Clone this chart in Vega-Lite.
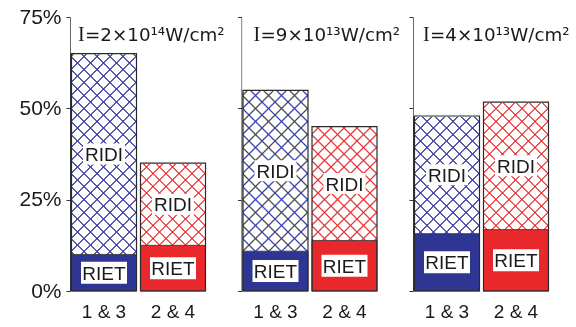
{
  "$schema": "https://vega.github.io/schema/vega-lite/v6.json",
  "background": "white",
  "padding": {"left": 18, "top": 6, "right": 4, "bottom": 4},
  "params": [
    {"name": "hatchA", "value": {"gradient": "linear", "x1": 0, "y1": 0, "x2": 0.277865, "y2": 1.17131, "stops": [
      {"offset": 0.03415, "color": "#fff"}, {"offset": 0.03835, "color": "#000"}, {"offset": 0.04255, "color": "#fff"},
      {"offset": 0.07250, "color": "#fff"}, {"offset": 0.07670, "color": "#000"}, {"offset": 0.08090, "color": "#fff"},
      {"offset": 0.11084, "color": "#fff"}, {"offset": 0.11504, "color": "#000"}, {"offset": 0.11924, "color": "#fff"},
      {"offset": 0.14919, "color": "#fff"}, {"offset": 0.15339, "color": "#000"}, {"offset": 0.15759, "color": "#fff"},
      {"offset": 0.18754, "color": "#fff"}, {"offset": 0.19174, "color": "#000"}, {"offset": 0.19594, "color": "#fff"},
      {"offset": 0.22589, "color": "#fff"}, {"offset": 0.23009, "color": "#000"}, {"offset": 0.23429, "color": "#fff"},
      {"offset": 0.26424, "color": "#fff"}, {"offset": 0.26844, "color": "#000"}, {"offset": 0.27264, "color": "#fff"},
      {"offset": 0.30258, "color": "#fff"}, {"offset": 0.30678, "color": "#000"}, {"offset": 0.31098, "color": "#fff"},
      {"offset": 0.34093, "color": "#fff"}, {"offset": 0.34513, "color": "#000"}, {"offset": 0.34933, "color": "#fff"},
      {"offset": 0.37928, "color": "#fff"}, {"offset": 0.38348, "color": "#000"}, {"offset": 0.38768, "color": "#fff"},
      {"offset": 0.41763, "color": "#fff"}, {"offset": 0.42183, "color": "#000"}, {"offset": 0.42603, "color": "#fff"},
      {"offset": 0.45598, "color": "#fff"}, {"offset": 0.46018, "color": "#000"}, {"offset": 0.46438, "color": "#fff"},
      {"offset": 0.49433, "color": "#fff"}, {"offset": 0.49853, "color": "#000"}, {"offset": 0.50273, "color": "#fff"},
      {"offset": 0.53267, "color": "#fff"}, {"offset": 0.53687, "color": "#000"}, {"offset": 0.54107, "color": "#fff"},
      {"offset": 0.57102, "color": "#fff"}, {"offset": 0.57522, "color": "#000"}, {"offset": 0.57942, "color": "#fff"},
      {"offset": 0.60937, "color": "#fff"}, {"offset": 0.61357, "color": "#000"}, {"offset": 0.61777, "color": "#fff"},
      {"offset": 0.64772, "color": "#fff"}, {"offset": 0.65192, "color": "#000"}, {"offset": 0.65612, "color": "#fff"},
      {"offset": 0.68607, "color": "#fff"}, {"offset": 0.69027, "color": "#000"}, {"offset": 0.69447, "color": "#fff"},
      {"offset": 0.72441, "color": "#fff"}, {"offset": 0.72861, "color": "#000"}, {"offset": 0.73281, "color": "#fff"},
      {"offset": 0.76276, "color": "#fff"}, {"offset": 0.76696, "color": "#000"}, {"offset": 0.77116, "color": "#fff"},
      {"offset": 0.80111, "color": "#fff"}, {"offset": 0.80531, "color": "#000"}, {"offset": 0.80951, "color": "#fff"},
      {"offset": 0.83946, "color": "#fff"}, {"offset": 0.84366, "color": "#000"}, {"offset": 0.84786, "color": "#fff"},
      {"offset": 0.87781, "color": "#fff"}, {"offset": 0.88201, "color": "#000"}, {"offset": 0.88621, "color": "#fff"},
      {"offset": 0.91615, "color": "#fff"}, {"offset": 0.92035, "color": "#000"}, {"offset": 0.92455, "color": "#fff"},
      {"offset": 0.95450, "color": "#fff"}, {"offset": 0.95870, "color": "#000"}, {"offset": 0.96290, "color": "#fff"}
    ]}},
    {"name": "hatchB", "value": {"gradient": "linear", "x1": 0, "y1": 1, "x2": 0.277865, "y2": -0.17131, "stops": [
      {"offset": 0.03415, "color": "rgba(0,0,0,0)"}, {"offset": 0.03835, "color": "#000"}, {"offset": 0.04255, "color": "rgba(0,0,0,0)"},
      {"offset": 0.07250, "color": "rgba(0,0,0,0)"}, {"offset": 0.07670, "color": "#000"}, {"offset": 0.08090, "color": "rgba(0,0,0,0)"},
      {"offset": 0.11084, "color": "rgba(0,0,0,0)"}, {"offset": 0.11504, "color": "#000"}, {"offset": 0.11924, "color": "rgba(0,0,0,0)"},
      {"offset": 0.14919, "color": "rgba(0,0,0,0)"}, {"offset": 0.15339, "color": "#000"}, {"offset": 0.15759, "color": "rgba(0,0,0,0)"},
      {"offset": 0.18754, "color": "rgba(0,0,0,0)"}, {"offset": 0.19174, "color": "#000"}, {"offset": 0.19594, "color": "rgba(0,0,0,0)"},
      {"offset": 0.22589, "color": "rgba(0,0,0,0)"}, {"offset": 0.23009, "color": "#000"}, {"offset": 0.23429, "color": "rgba(0,0,0,0)"},
      {"offset": 0.26424, "color": "rgba(0,0,0,0)"}, {"offset": 0.26844, "color": "#000"}, {"offset": 0.27264, "color": "rgba(0,0,0,0)"},
      {"offset": 0.30258, "color": "rgba(0,0,0,0)"}, {"offset": 0.30678, "color": "#000"}, {"offset": 0.31098, "color": "rgba(0,0,0,0)"},
      {"offset": 0.34093, "color": "rgba(0,0,0,0)"}, {"offset": 0.34513, "color": "#000"}, {"offset": 0.34933, "color": "rgba(0,0,0,0)"},
      {"offset": 0.37928, "color": "rgba(0,0,0,0)"}, {"offset": 0.38348, "color": "#000"}, {"offset": 0.38768, "color": "rgba(0,0,0,0)"},
      {"offset": 0.41763, "color": "rgba(0,0,0,0)"}, {"offset": 0.42183, "color": "#000"}, {"offset": 0.42603, "color": "rgba(0,0,0,0)"},
      {"offset": 0.45598, "color": "rgba(0,0,0,0)"}, {"offset": 0.46018, "color": "#000"}, {"offset": 0.46438, "color": "rgba(0,0,0,0)"},
      {"offset": 0.49433, "color": "rgba(0,0,0,0)"}, {"offset": 0.49853, "color": "#000"}, {"offset": 0.50273, "color": "rgba(0,0,0,0)"},
      {"offset": 0.53267, "color": "rgba(0,0,0,0)"}, {"offset": 0.53687, "color": "#000"}, {"offset": 0.54107, "color": "rgba(0,0,0,0)"},
      {"offset": 0.57102, "color": "rgba(0,0,0,0)"}, {"offset": 0.57522, "color": "#000"}, {"offset": 0.57942, "color": "rgba(0,0,0,0)"},
      {"offset": 0.60937, "color": "rgba(0,0,0,0)"}, {"offset": 0.61357, "color": "#000"}, {"offset": 0.61777, "color": "rgba(0,0,0,0)"},
      {"offset": 0.64772, "color": "rgba(0,0,0,0)"}, {"offset": 0.65192, "color": "#000"}, {"offset": 0.65612, "color": "rgba(0,0,0,0)"},
      {"offset": 0.68607, "color": "rgba(0,0,0,0)"}, {"offset": 0.69027, "color": "#000"}, {"offset": 0.69447, "color": "rgba(0,0,0,0)"},
      {"offset": 0.72441, "color": "rgba(0,0,0,0)"}, {"offset": 0.72861, "color": "#000"}, {"offset": 0.73281, "color": "rgba(0,0,0,0)"},
      {"offset": 0.76276, "color": "rgba(0,0,0,0)"}, {"offset": 0.76696, "color": "#000"}, {"offset": 0.77116, "color": "rgba(0,0,0,0)"},
      {"offset": 0.80111, "color": "rgba(0,0,0,0)"}, {"offset": 0.80531, "color": "#000"}, {"offset": 0.80951, "color": "rgba(0,0,0,0)"},
      {"offset": 0.83946, "color": "rgba(0,0,0,0)"}, {"offset": 0.84366, "color": "#000"}, {"offset": 0.84786, "color": "rgba(0,0,0,0)"},
      {"offset": 0.87781, "color": "rgba(0,0,0,0)"}, {"offset": 0.88201, "color": "#000"}, {"offset": 0.88621, "color": "rgba(0,0,0,0)"},
      {"offset": 0.91615, "color": "rgba(0,0,0,0)"}, {"offset": 0.92035, "color": "#000"}, {"offset": 0.92455, "color": "rgba(0,0,0,0)"},
      {"offset": 0.95450, "color": "rgba(0,0,0,0)"}, {"offset": 0.95870, "color": "#000"}, {"offset": 0.96290, "color": "rgba(0,0,0,0)"}
    ]}}
  ],
  "data": {"values": [
    {"panel": "2e14", "pair": "1 & 3", "riet": 10, "total": 65},
    {"panel": "2e14", "pair": "2 & 4", "riet": 12.5, "total": 35},
    {"panel": "9e13", "pair": "1 & 3", "riet": 10.9, "total": 54.9},
    {"panel": "9e13", "pair": "2 & 4", "riet": 13.8, "total": 45},
    {"panel": "4e13", "pair": "1 & 3", "riet": 15.7, "total": 47.9},
    {"panel": "4e13", "pair": "2 & 4", "riet": 16.8, "total": 51.7}
  ]},
  "config": {
    "view": {"stroke": null},
    "axisY": {"domainColor": "#333", "domainWidth": 1, "tickColor": "#333", "tickSize": 4, "labelFont": "Liberation Sans", "labelFontSize": 21, "labelColor": "#1a1a1a", "labelPadding": 5, "grid": false},
    "axisX": {"domain": false, "ticks": false, "labelAngle": 0, "labelFont": "Liberation Sans", "labelFontSize": 19, "labelColor": "#1a1a1a", "labelPadding": 11, "grid": false},
    "text": {"font": "Liberation Sans", "fontSize": 19, "color": "#1a1a1a"}
  },
  "spacing": 34.5,
  "bounds": "flush",
  "hconcat": [
    {
      "width": 137, "height": 274,
      "transform": [
        {"filter": {"field": "panel", "equal": "2e14"}},
        {"calculate": "(datum.riet + datum.total) / 2", "as": "ridi_label_y"},
        {"calculate": "datum.riet / 2", "as": "riet_label_y"}
      ],
      "encoding": {"x": {"field": "pair", "type": "nominal", "title": null, "scale": {"paddingInner": 0.05797, "paddingOuter": 0.02174}}},
      "layer": [
        {"mark": {"type": "bar", "fill": {"expr": "hatchA"}}, "encoding": {"y": {"datum": 0, "type": "quantitative", "title": null, "scale": {"domain": [0, 75], "nice": false}, "axis": {"values": [0, 25, 50, 75], "labelExpr": "datum.value + '%'"}}, "y2": {"datum": 75}}},
        {"mark": {"type": "bar", "fill": {"expr": "hatchB"}}, "encoding": {"y": {"datum": 0, "type": "quantitative", "title": null}, "y2": {"datum": 75}}},
        {"mark": {"type": "bar", "fill": "white", "stroke": "white", "strokeWidth": 1.5}, "encoding": {"y": {"field": "total", "type": "quantitative", "title": null}, "y2": {"datum": 75}}},
        {"mark": {"type": "bar", "blend": "lighten"}, "encoding": {"y": {"field": "total", "type": "quantitative", "stack": null, "title": null}, "color": {"condition": {"test": "datum.pair == '1 & 3'", "value": "#3c45ae"}, "value": "#ef3134"}}},
        {"mark": {"type": "bar", "stroke": "#333", "strokeWidth": 0.8}, "encoding": {"y": {"field": "riet", "type": "quantitative", "stack": null, "title": null}, "color": {"field": "pair", "type": "nominal", "legend": null, "scale": {"domain": ["1 & 3", "2 & 4"], "range": ["#2e3592", "#e8282b"]}}}},
        {"mark": {"type": "bar", "fill": "transparent", "stroke": "#2a2a2a", "strokeWidth": 1.2}, "encoding": {"y": {"field": "total", "type": "quantitative", "stack": null, "title": null}}},
        {"mark": {"type": "point", "shape": "M-1,-0.5L1,-0.5L1,0.5L-1,0.5Z", "filled": true, "fill": "white", "opacity": 1, "size": 1764, "strokeWidth": 0}, "encoding": {"y": {"field": "ridi_label_y", "type": "quantitative", "title": null}}},
        {"mark": {"type": "text", "text": "RIDI", "baseline": "middle", "dy": 1}, "encoding": {"y": {"field": "ridi_label_y", "type": "quantitative", "title": null}}},
        {"mark": {"type": "point", "shape": "M-1,-0.4783L1,-0.4783L1,0.4783L-1,0.4783Z", "filled": true, "fill": "white", "opacity": 1, "size": 2116, "strokeWidth": 0}, "encoding": {"y": {"field": "riet_label_y", "type": "quantitative", "title": null}}},
        {"mark": {"type": "text", "text": "RIET", "baseline": "middle", "dy": 1}, "encoding": {"y": {"field": "riet_label_y", "type": "quantitative", "title": null}}},
        {"transform": [{"filter": {"field": "pair", "equal": "1 & 3"}}], "mark": {"type": "text", "text": "I", "font": "Liberation Serif", "fontSize": 20, "align": "left", "baseline": "alphabetic", "dx": -26, "dy": 23.5}, "encoding": {"y": {"datum": 75, "type": "quantitative", "title": null}}},
        {"transform": [{"filter": {"field": "pair", "equal": "1 & 3"}}], "mark": {"type": "text", "text": "=2×10¹⁴W/cm²", "font": "DejaVu Sans", "fontSize": 18.3, "align": "left", "baseline": "alphabetic", "dx": -19, "dy": 23.5}, "encoding": {"y": {"datum": 75, "type": "quantitative", "title": null}}}
      ]
    },
    {
      "width": 137, "height": 274,
      "transform": [
        {"filter": {"field": "panel", "equal": "9e13"}},
        {"calculate": "(datum.riet + datum.total) / 2", "as": "ridi_label_y"},
        {"calculate": "datum.riet / 2", "as": "riet_label_y"}
      ],
      "encoding": {"x": {"field": "pair", "type": "nominal", "title": null, "scale": {"paddingInner": 0.05797, "paddingOuter": 0.02174}}},
      "layer": [
        {"mark": {"type": "bar", "fill": {"expr": "hatchA"}}, "encoding": {"y": {"datum": 0, "type": "quantitative", "title": null, "scale": {"domain": [0, 75], "nice": false}, "axis": {"values": [0, 25, 50, 75], "labels": false}}, "y2": {"datum": 75}}},
        {"mark": {"type": "bar", "fill": {"expr": "hatchB"}}, "encoding": {"y": {"datum": 0, "type": "quantitative", "title": null}, "y2": {"datum": 75}}},
        {"mark": {"type": "bar", "fill": "white", "stroke": "white", "strokeWidth": 1.5}, "encoding": {"y": {"field": "total", "type": "quantitative", "title": null}, "y2": {"datum": 75}}},
        {"mark": {"type": "bar", "blend": "lighten"}, "encoding": {"y": {"field": "total", "type": "quantitative", "stack": null, "title": null}, "color": {"condition": {"test": "datum.pair == '1 & 3'", "value": "#3c45ae"}, "value": "#ef3134"}}},
        {"mark": {"type": "bar", "stroke": "#333", "strokeWidth": 0.8}, "encoding": {"y": {"field": "riet", "type": "quantitative", "stack": null, "title": null}, "color": {"field": "pair", "type": "nominal", "legend": null, "scale": {"domain": ["1 & 3", "2 & 4"], "range": ["#2e3592", "#e8282b"]}}}},
        {"mark": {"type": "bar", "fill": "transparent", "stroke": "#2a2a2a", "strokeWidth": 1.2}, "encoding": {"y": {"field": "total", "type": "quantitative", "stack": null, "title": null}}},
        {"mark": {"type": "point", "shape": "M-1,-0.5L1,-0.5L1,0.5L-1,0.5Z", "filled": true, "fill": "white", "opacity": 1, "size": 1764, "strokeWidth": 0}, "encoding": {"y": {"field": "ridi_label_y", "type": "quantitative", "title": null}}},
        {"mark": {"type": "text", "text": "RIDI", "baseline": "middle", "dy": 1}, "encoding": {"y": {"field": "ridi_label_y", "type": "quantitative", "title": null}}},
        {"mark": {"type": "point", "shape": "M-1,-0.4783L1,-0.4783L1,0.4783L-1,0.4783Z", "filled": true, "fill": "white", "opacity": 1, "size": 2116, "strokeWidth": 0}, "encoding": {"y": {"field": "riet_label_y", "type": "quantitative", "title": null}}},
        {"mark": {"type": "text", "text": "RIET", "baseline": "middle", "dy": 1}, "encoding": {"y": {"field": "riet_label_y", "type": "quantitative", "title": null}}},
        {"transform": [{"filter": {"field": "pair", "equal": "1 & 3"}}], "mark": {"type": "text", "text": "I", "font": "Liberation Serif", "fontSize": 20, "align": "left", "baseline": "alphabetic", "dx": -22, "dy": 23.5}, "encoding": {"y": {"datum": 75, "type": "quantitative", "title": null}}},
        {"transform": [{"filter": {"field": "pair", "equal": "1 & 3"}}], "mark": {"type": "text", "text": "=9×10¹³W/cm²", "font": "DejaVu Sans", "fontSize": 18.3, "align": "left", "baseline": "alphabetic", "dx": -15, "dy": 23.5}, "encoding": {"y": {"datum": 75, "type": "quantitative", "title": null}}}
      ]
    },
    {
      "width": 137, "height": 274,
      "transform": [
        {"filter": {"field": "panel", "equal": "4e13"}},
        {"calculate": "(datum.riet + datum.total) / 2", "as": "ridi_label_y"},
        {"calculate": "datum.riet / 2", "as": "riet_label_y"}
      ],
      "encoding": {"x": {"field": "pair", "type": "nominal", "title": null, "scale": {"paddingInner": 0.05797, "paddingOuter": 0.02174}}},
      "layer": [
        {"mark": {"type": "bar", "fill": {"expr": "hatchA"}}, "encoding": {"y": {"datum": 0, "type": "quantitative", "title": null, "scale": {"domain": [0, 75], "nice": false}, "axis": {"values": [0, 25, 50, 75], "labels": false}}, "y2": {"datum": 75}}},
        {"mark": {"type": "bar", "fill": {"expr": "hatchB"}}, "encoding": {"y": {"datum": 0, "type": "quantitative", "title": null}, "y2": {"datum": 75}}},
        {"mark": {"type": "bar", "fill": "white", "stroke": "white", "strokeWidth": 1.5}, "encoding": {"y": {"field": "total", "type": "quantitative", "title": null}, "y2": {"datum": 75}}},
        {"mark": {"type": "bar", "blend": "lighten"}, "encoding": {"y": {"field": "total", "type": "quantitative", "stack": null, "title": null}, "color": {"condition": {"test": "datum.pair == '1 & 3'", "value": "#3c45ae"}, "value": "#ef3134"}}},
        {"mark": {"type": "bar", "stroke": "#333", "strokeWidth": 0.8}, "encoding": {"y": {"field": "riet", "type": "quantitative", "stack": null, "title": null}, "color": {"field": "pair", "type": "nominal", "legend": null, "scale": {"domain": ["1 & 3", "2 & 4"], "range": ["#2e3592", "#e8282b"]}}}},
        {"mark": {"type": "bar", "fill": "transparent", "stroke": "#2a2a2a", "strokeWidth": 1.2}, "encoding": {"y": {"field": "total", "type": "quantitative", "stack": null, "title": null}}},
        {"mark": {"type": "point", "shape": "M-1,-0.5L1,-0.5L1,0.5L-1,0.5Z", "filled": true, "fill": "white", "opacity": 1, "size": 1764, "strokeWidth": 0}, "encoding": {"y": {"field": "ridi_label_y", "type": "quantitative", "title": null}}},
        {"mark": {"type": "text", "text": "RIDI", "baseline": "middle", "dy": 1}, "encoding": {"y": {"field": "ridi_label_y", "type": "quantitative", "title": null}}},
        {"mark": {"type": "point", "shape": "M-1,-0.4783L1,-0.4783L1,0.4783L-1,0.4783Z", "filled": true, "fill": "white", "opacity": 1, "size": 2116, "strokeWidth": 0}, "encoding": {"y": {"field": "riet_label_y", "type": "quantitative", "title": null}}},
        {"mark": {"type": "text", "text": "RIET", "baseline": "middle", "dy": 1}, "encoding": {"y": {"field": "riet_label_y", "type": "quantitative", "title": null}}},
        {"transform": [{"filter": {"field": "pair", "equal": "1 & 3"}}], "mark": {"type": "text", "text": "I", "font": "Liberation Serif", "fontSize": 20, "align": "left", "baseline": "alphabetic", "dx": -24, "dy": 23.5}, "encoding": {"y": {"datum": 75, "type": "quantitative", "title": null}}},
        {"transform": [{"filter": {"field": "pair", "equal": "1 & 3"}}], "mark": {"type": "text", "text": "=4×10¹³W/cm²", "font": "DejaVu Sans", "fontSize": 18.3, "align": "left", "baseline": "alphabetic", "dx": -17, "dy": 23.5}, "encoding": {"y": {"datum": 75, "type": "quantitative", "title": null}}}
      ]
    }
  ]
}
